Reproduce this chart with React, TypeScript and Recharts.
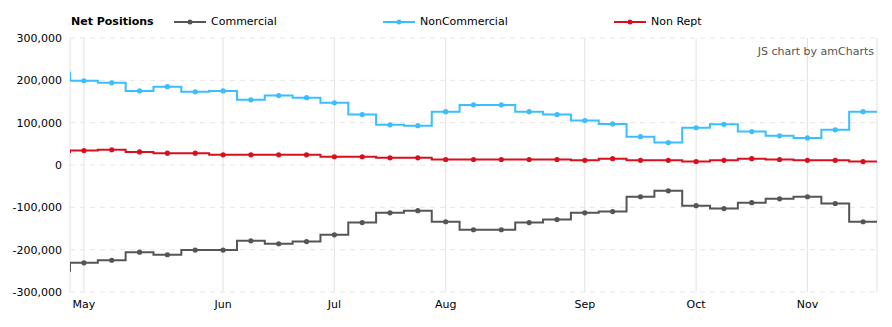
import React from "react";
import { LineChart, Line, XAxis, YAxis, CartesianGrid } from "recharts";

// Weekly index: -1 is the partially visible week before May
const weekIndex = [-1, 0, 1, 2, 3, 4, 5, 6, 7, 8, 9, 10, 11, 12, 13, 14, 15, 16, 17, 18, 19, 20, 21, 22, 23, 24, 25, 26, 27, 28];

const commercial = [
  -250000, -231000, -225000, -206000, -212000, -201000, -201000, -179000, -186000, -181000,
  -165000, -136000, -113000, -108000, -134000, -153000, -153000, -136000, -129000, -113000,
  -110000, -75000, -61000, -96000, -103000, -89000, -80000, -75000, -91000, -134000,
];

const nonCommercial = [
  218000, 199000, 194000, 175000, 185000, 173000, 175000, 154000, 164000, 159000,
  147000, 119000, 95000, 93000, 126000, 142000, 142000, 126000, 119000, 105000,
  97000, 67000, 53000, 88000, 96000, 79000, 69000, 64000, 83000, 126000,
];

const nonRept = [
  31000, 34000, 36000, 31000, 28000, 28000, 24000, 24000, 24000, 24000,
  19500, 19500, 17000, 17000, 13000, 13000, 13000, 13000, 13000, 11000,
  15000, 11000, 11000, 8000, 11000, 15000, 13000, 11000, 11000, 8000,
];

const monthTicks = [0, 5, 9, 13, 18, 22, 26];
const monthLabels = ["May", "Jun", "Jul", "Aug", "Sep", "Oct", "Nov"];

const yTicks = [-300000, -200000, -100000, 0, 100000, 200000, 300000];

const COLORS = {
  commercial: "#555555",
  nonCommercial: "#3ABEFF",
  nonRept: "#D8101E",
};

const FONT = "'DejaVu Sans', Verdana, sans-serif";

const lastIdx = weekIndex.length - 1;
const data = weekIndex.map((i, k) => ({
  i,
  commercial: commercial[k],
  nonCommercial: nonCommercial[k],
  nonRept: nonRept[k],
}));
// carry the last week's step to the right edge of the plot
data.push({
  i: weekIndex[lastIdx] + 1,
  commercial: commercial[lastIdx],
  nonCommercial: nonCommercial[lastIdx],
  nonRept: nonRept[lastIdx],
});

const makeDot = (color: string) => (props: any) => {
  const { cx, cy, index, payload } = props;
  if (payload.i < 0 || payload.i > weekIndex[lastIdx]) return <g key={`d${index}`} />;
  return <circle key={`d${index}`} cx={cx} cy={cy} r={2.6} fill={color} stroke="none" />;
};

const legendItems = [
  { name: "Commercial", color: COLORS.commercial, x: 174 },
  { name: "NonCommercial", color: COLORS.nonCommercial, x: 383 },
  { name: "Non Rept", color: COLORS.nonRept, x: 614 },
];

export default function App() {
  return (
    <div style={{ position: "absolute", left: 0, top: 0, width: 892, height: 327, background: "#fff", fontFamily: FONT }}>
      <LineChart
        width={892}
        height={327}
        data={data}
        margin={{ top: 38, right: 15, bottom: 5, left: 0 }}
      >
        <CartesianGrid vertical={true} horizontal={false} stroke="#e2e2e2" strokeWidth={1} />
        <CartesianGrid vertical={false} horizontal={true} stroke="#e6e6e6" strokeDasharray="5 5" strokeWidth={1} />
        <XAxis
          type="number"
          dataKey="i"
          domain={[-0.5, 28.5]}
          allowDataOverflow
          ticks={monthTicks}
          interval={0}
          tickFormatter={(v: number) => monthLabels[monthTicks.indexOf(v)] ?? ""}
          axisLine={false}
          tickLine={false}
          height={30}
          tick={{ fill: "#000", fontSize: 11, fontFamily: FONT }}
        />
        <YAxis
          type="number"
          domain={[-300000, 300000]}
          ticks={yTicks}
          interval={0}
          width={70}
          axisLine={false}
          tickLine={false}
          tickFormatter={(v: number) => v.toLocaleString("en-US")}
          tick={{ fill: "#000", fontSize: 11, fontFamily: FONT }}
        />
        <Line
          type="step"
          dataKey="commercial"
          stroke={COLORS.commercial}
          strokeWidth={2}
          dot={makeDot(COLORS.commercial)}
          activeDot={false}
          isAnimationActive={false}
        />
        <Line
          type="step"
          dataKey="nonCommercial"
          stroke={COLORS.nonCommercial}
          strokeWidth={2}
          dot={makeDot(COLORS.nonCommercial)}
          activeDot={false}
          isAnimationActive={false}
        />
        <Line
          type="step"
          dataKey="nonRept"
          stroke={COLORS.nonRept}
          strokeWidth={2}
          dot={makeDot(COLORS.nonRept)}
          activeDot={false}
          isAnimationActive={false}
        />
      </LineChart>
      <div
        style={{
          position: "absolute",
          left: 71,
          top: 14,
          fontSize: 11,
          fontWeight: "bold",
          color: "#000",
          lineHeight: "16px",
          whiteSpace: "nowrap",
        }}
      >
        Net Positions
      </div>
      {legendItems.map((it) => (
        <div
          key={it.name}
          style={{
            position: "absolute",
            left: it.x,
            top: 14,
            height: 16,
            display: "flex",
            alignItems: "center",
            whiteSpace: "nowrap",
          }}
        >
          <svg width={32} height={16} style={{ display: "block" }}>
            <line x1={0} y1={8} x2={32} y2={8} stroke={it.color} strokeWidth={2} />
            <circle cx={16} cy={8} r={2.5} fill={it.color} />
          </svg>
          <span style={{ marginLeft: 5, fontSize: 11, color: "#000", lineHeight: "16px" }}>{it.name}</span>
        </div>
      ))}
      <div
        style={{
          position: "absolute",
          right: 892 - 874,
          top: 44,
          fontSize: 11,
          color: "#555",
          lineHeight: "16px",
          whiteSpace: "nowrap",
        }}
      >
        JS chart by amCharts
      </div>
    </div>
  );
}
